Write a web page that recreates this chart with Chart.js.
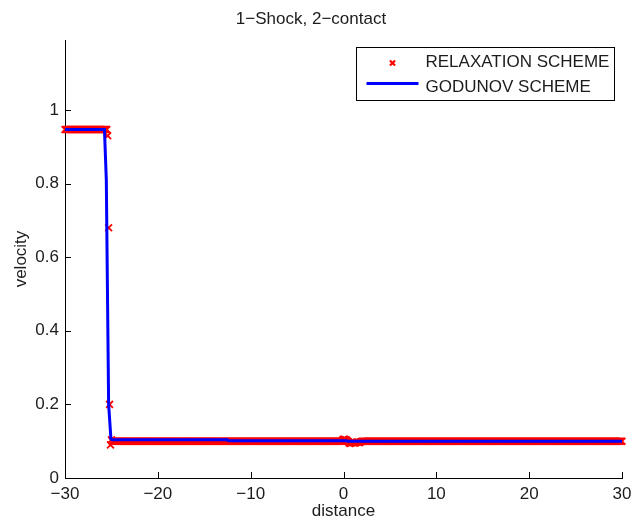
<!DOCTYPE html>
<html>
<head>
<meta charset="utf-8">
<script src="https://cdn.jsdelivr.net/npm/chart.js@4.4.1/dist/chart.umd.min.js"></script>
<style>
  html, body { margin: 0; padding: 0; background: #ffffff; }
  #wrap { width: 633px; height: 523px; }
</style>
</head>
<body>
<div id="wrap"><canvas id="plot" width="633" height="523"></canvas></div>
<script>
// ---- Relaxation scheme: one value per mesh node on [-30, 30] ----
const meshStart = -30;
const meshEnd = 30;
const meshStep = 0.1;

// Constant states of the relaxation solution (from, to, value)
const relaxPlateauFrom  = [-30.0, -24.9, 2.0];
const relaxPlateauTo    = [-25.5, -0.2, 30.0];
const relaxPlateauValue = [0.947, 0.100, 0.100];

// Nodes inside the 1-shock and around the 2-contact
const relaxPointX = [-25.4, -25.3, -25.2, -25.1, -25.0,
  -0.1, 0.0, 0.1, 0.2, 0.3, 0.4, 0.5, 0.6, 0.7, 0.8, 0.9,
  1.0, 1.1, 1.2, 1.3, 1.4, 1.5, 1.6, 1.7, 1.8, 1.9];
const relaxPointY = [0.930, 0.680, 0.200, 0.090, 0.104,
  0.103, 0.105, 0.105, 0.104, 0.103, 0.101, 0.099, 0.096, 0.094, 0.095, 0.096,
  0.097, 0.096, 0.095, 0.096, 0.097, 0.098, 0.097, 0.096, 0.098, 0.099];

// ---- Godunov scheme: line vertices ----
const godunovX = [-30.0, -25.75, -25.55, -25.3, -25.05, -24.9, -12.5, -12.4, 0.3, 0.4, 30.0];
const godunovY = [0.947, 0.947, 0.810, 0.200, 0.106, 0.104, 0.104, 0.101, 0.101, 0.100, 0.100];

// ---- Axis ticks ----
const xTickValues = [-30, -20, -10, 0, 10, 20, 30];
const yTickValues = [0, 0.2, 0.4, 0.6, 0.8, 1];

const seriesNames = ['RELAXATION SCHEME', 'GODUNOV SCHEME'];
const chartTitle = '1\u2212Shock, 2\u2212contact';
const xAxisName = 'distance';
const yAxisName = 'velocity';

const round1 = v => Math.round(v * 10) / 10;

function relaxValueAt(x) {
  const k = relaxPointX.findIndex(p => round1(p) === x);
  if (k >= 0) return relaxPointY[k];
  for (let i = 0; i < relaxPlateauFrom.length; i++) {
    if (x >= relaxPlateauFrom[i] - 1e-9 && x <= relaxPlateauTo[i] + 1e-9) return relaxPlateauValue[i];
  }
  return null;
}

const relaxData = [];
const nodeCount = Math.round((meshEnd - meshStart) / meshStep);
for (let i = 0; i <= nodeCount; i++) {
  const x = round1(meshStart + i * meshStep);
  const y = relaxValueAt(x);
  if (y !== null) relaxData.push({ x, y });
}
const godunovData = godunovX.map((x, i) => ({ x, y: godunovY[i] }));

const FONT = 'Liberation Sans, Arial, Helvetica, sans-serif';
const TEXT = '#1c1c1c';
const minusSign = v => (v < 0 ? '\u2212' + Math.abs(v) : String(v));

// Inward tick marks on the left and bottom axes
const inwardTicks = {
  id: 'inwardTicks',
  afterDatasetsDraw(chart) {
    const { ctx, chartArea, scales } = chart;
    const len = 6;
    ctx.save();
    ctx.strokeStyle = '#000000';
    ctx.lineWidth = 1;
    ctx.beginPath();
    scales.x.ticks.forEach(t => {
      const px = Math.round(scales.x.getPixelForValue(t.value)) + 0.5;
      ctx.moveTo(px, chartArea.bottom);
      ctx.lineTo(px, chartArea.bottom - len);
    });
    scales.y.ticks.forEach(t => {
      const py = Math.round(scales.y.getPixelForValue(t.value)) + 0.5;
      ctx.moveTo(chartArea.left, py);
      ctx.lineTo(chartArea.left + len, py);
    });
    ctx.stroke();
    ctx.restore();
  }
};

// Boxed legend in the upper right corner of the axes
const boxedLegend = {
  id: 'boxedLegend',
  afterDraw(chart) {
    const { ctx, chartArea } = chart;
    const w = 258, h = 53;
    const x0 = Math.round(chartArea.right - 8 - w) + 0.5;
    const y0 = Math.round(chartArea.top + 7) + 0.5;
    const relax = chart.data.datasets[1];
    const god = chart.data.datasets[0];
    ctx.save();
    ctx.fillStyle = '#ffffff';
    ctx.fillRect(x0, y0, w, h);
    ctx.strokeStyle = '#000000';
    ctx.lineWidth = 1;
    ctx.strokeRect(x0, y0, w, h);
    // marker sample
    ctx.strokeStyle = relax.borderColor;
    ctx.fillStyle = relax.backgroundColor;
    ctx.lineWidth = 2.2;
    Chart.helpers.drawPoint(ctx, {
      pointStyle: relax.pointStyle, radius: 3.6,
      borderWidth: 2.2, rotation: 0
    }, x0 + 36, y0 + 15.5);
    // line sample
    ctx.strokeStyle = god.borderColor;
    ctx.lineWidth = god.borderWidth;
    ctx.beginPath();
    ctx.moveTo(x0 + 10, y0 + 36);
    ctx.lineTo(x0 + 62, y0 + 36);
    ctx.stroke();
    // labels
    ctx.fillStyle = TEXT;
    ctx.font = '17px ' + FONT;
    ctx.textBaseline = 'middle';
    ctx.textAlign = 'left';
    ctx.fillText(relax.label, x0 + 69, y0 + 14.5);
    ctx.fillText(god.label, x0 + 69, y0 + 39.5);
    ctx.restore();
  }
};

new Chart(document.getElementById('plot'), {
  type: 'scatter',
  data: {
    datasets: [
      {
        label: seriesNames[1],
        data: godunovData,
        showLine: true,
        borderColor: '#0000ff',
        backgroundColor: '#0000ff',
        borderWidth: 3,
        pointRadius: 0,
        tension: 0,
        borderJoinStyle: 'miter',
        order: 1,
        clip: false
      },
      {
        label: seriesNames[0],
        data: relaxData,
        showLine: false,
        pointStyle: 'crossRot',
        pointRadius: 4.8,
        borderWidth: 1.8,
        borderColor: '#ff0000',
        backgroundColor: '#ff0000',
        order: 2,
        clip: false
      }
    ]
  },
  options: {
    responsive: false,
    animation: false,
    events: [],
    layout: { padding: { left: 0, right: 11, top: 0, bottom: 0 } },
    plugins: {
      legend: { display: false },
      tooltip: { enabled: false },
      title: {
        display: true,
        text: chartTitle,
        color: TEXT,
        font: { family: FONT, size: 17, weight: 'normal' },
        padding: { top: 9, bottom: 10.6 }
      }
    },
    scales: {
      x: {
        type: 'linear',
        min: -30,
        max: 30,
        afterBuildTicks(scale) { scale.ticks = xTickValues.map(v => ({ value: v })); },
        ticks: {
          color: TEXT,
          font: { family: FONT, size: 17 },
          padding: 6,
          maxRotation: 0,
          autoSkip: false,
          callback: v => minusSign(v)
        },
        grid: { display: false, drawTicks: false },
        border: { display: true, color: '#000000', width: 1 },
        title: {
          display: true,
          text: xAxisName,
          color: TEXT,
          font: { family: FONT, size: 17 },
          padding: { top: 0, bottom: 1 }
        },
        afterFit(scale) { scale.height = 45; scale.paddingLeft = 0; scale.paddingRight = 0; }
      },
      y: {
        type: 'linear',
        min: 0,
        max: 1.19,
        afterBuildTicks(scale) { scale.ticks = yTickValues.map(v => ({ value: v })); },
        ticks: {
          color: TEXT,
          font: { family: FONT, size: 17 },
          padding: 6,
          callback: v => String(round1(v))
        },
        grid: { display: false, drawTicks: false },
        border: { display: true, color: '#000000', width: 1 },
        title: {
          display: true,
          text: yAxisName,
          color: TEXT,
          font: { family: FONT, size: 17 },
          padding: { top: 11, bottom: 0 }
        },
        afterFit(scale) { scale.width = 65; scale.paddingTop = 0; scale.paddingBottom = 0; }
      }
    }
  },
  plugins: [inwardTicks, boxedLegend]
});
</script>
</body>
</html>
